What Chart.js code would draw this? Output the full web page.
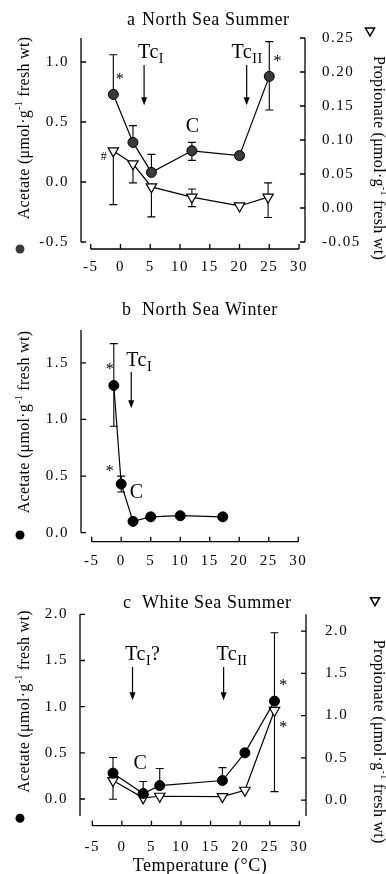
<!DOCTYPE html>
<html>
<head>
<meta charset="utf-8">
<title>Acetate and propionate vs temperature</title>
<script src="https://cdn.jsdelivr.net/npm/chart.js@4.4.1/dist/chart.umd.min.js"></script>
<style>
  html, body { margin: 0; padding: 0; background: #fff; }
  body { position: relative; width: 386px; height: 874px; overflow: hidden; }
  .panel { position: absolute; left: 0; width: 386px; }
</style>
</head>
<body>
<div class="panel" style="top:0;height:285px"><canvas id="panelA"></canvas></div>
<div class="panel" style="top:285px;height:290px"><canvas id="panelB"></canvas></div>
<div class="panel" style="top:575px;height:299px"><canvas id="panelC"></canvas></div>
<script>
const SERIF = '"Liberation Serif", "Times New Roman", serif';
Chart.defaults.font.family = SERIF;
Chart.defaults.color = '#000';

const tempTicks = [-5, 0, 5, 10, 15, 20, 25, 30];

// a  North Sea Summer
const tempA = [-1.2, 2.1, 5.2, 12.0, 20.0, 25.0];
const acetateA = [0.73, 0.33, 0.08, 0.26, 0.22, 0.88];
const acetateUpA = [1.06, 0.47, 0.23, 0.33, null, 1.17];
const acetateDownA = [null, null, null, 0.18, null, 0.60];
const propTempA = [-1.2, 2.1, 5.2, 12.0, 20.0, 24.8];
const propionateA = [0.084, 0.065, 0.031, 0.016, 0.003, 0.016];
const propUpA = [null, null, null, 0.028, null, 0.037];
const propDownA = [0.005, 0.037, -0.013, 0.002, null, -0.014];
const acetateTicksA = [-0.5, 0, 0.5, 1.0];
const propTicksA = [-0.05, 0, 0.05, 0.10, 0.15, 0.20, 0.25];

// b  North Sea Winter
const tempB = [-1.25, 0, 2.0, 5.0, 10.0, 17.2];
const acetateB = [1.30, 0.43, 0.10, 0.14, 0.15, 0.14];
const acetateUpB = [1.67, 0.50, null, null, null, null];
const acetateDownB = [0.94, 0.36, null, null, null, null];
const acetateTicksB = [0, 0.5, 1.0, 1.5];

// c  White Sea Summer
const tempC = [-1.5, 3.6, 6.4, 17.0, 20.8, 25.8];
const acetateC = [0.28, 0.06, 0.145, 0.20, 0.50, 1.06];
const acetateUpC = [0.45, 0.19, 0.33, 0.34, null, 1.80];
const propionateC = [0.23, 0.026, 0.045, 0.04, 0.116, 1.06];
const propDownC = [0.01, null, null, null, null, 0.10];
const acetateTicksC = [0, 0.5, 1.0, 1.5, 2.0];
const propTicksC = [0, 0.5, 1.0, 1.5, 2.0];

const acetateTitle = [{ t: 'Acetate (\u03bcmol\u00b7g' }, { t: '-1', sup: true }, { t: ' fresh wt)' }];
const propionateTitle = [{ t: 'Propionate (\u03bcmol\u00b7g' }, { t: '-1', sup: true }, { t: ' fresh wt)' }];

function points(xs, ys) {
  return xs.map((x, i) => ({ x, y: ys[i] }));
}

function acetateSet(xs, ys, up, down, fill) {
  return {
    label: 'Acetate', data: points(xs, ys), yAxisID: 'y', errUp: up, errDown: down,
    showLine: true, borderColor: '#000', borderWidth: 1.2,
    pointStyle: 'circle', pointRadius: 5, pointBackgroundColor: fill,
    pointBorderColor: '#000', pointBorderWidth: 1
  };
}

function propionateSet(xs, ys, up, down) {
  return {
    label: 'Propionate', data: points(xs, ys), yAxisID: 'y2', errUp: up, errDown: down,
    showLine: true, borderColor: '#000', borderWidth: 1.2,
    pointStyle: 'triangle', pointRotation: 180, pointRadius: 6, pointBackgroundColor: '#fff',
    pointBorderColor: '#000', pointBorderWidth: 1.2
  };
}

function tempAxis(min, max, height, pad) {
  return {
    type: 'linear', min, max,
    grid: { display: false, drawTicks: false }, border: { display: false },
    afterBuildTicks: s => { s.ticks = tempTicks.map(v => ({ value: v })); },
    afterFit: s => { s.height = height; },
    ticks: { padding: pad, font: { size: 15 }, maxRotation: 0, callback: v => String(v) }
  };
}

function valueAxis(position, min, max, tickVals, digits, width, pad) {
  return {
    type: 'linear', position, min, max,
    grid: { display: false, drawTicks: false }, border: { display: false },
    afterBuildTicks: s => { s.ticks = tickVals.map(v => ({ value: v })); },
    afterFit: s => { s.width = width; },
    ticks: { padding: pad, font: { size: 15 }, callback: v => Number(v).toFixed(digits) }
  };
}

function setFont(ctx, size, ls) {
  ctx.font = size + 'px ' + SERIF;
  ctx.letterSpacing = (ls || 0) + 'px';
}

// axis title with a superscript, centred on (cx, cy) and turned by angle
function richLabel(ctx, parts, cx, cy, angle, size) {
  ctx.save();
  ctx.translate(cx, cy);
  ctx.rotate(angle);
  ctx.textAlign = 'left';
  ctx.textBaseline = 'middle';
  let total = 0;
  const runs = parts.map(p => {
    const s = p.sup ? size * 0.62 : size;
    setFont(ctx, s, 0.3);
    const w = ctx.measureText(p.t).width;
    total += w;
    return { t: p.t, sup: p.sup, s, w };
  });
  let x = -total / 2;
  runs.forEach(r => {
    setFont(ctx, r.s, 0.3);
    ctx.fillText(r.t, x, r.sup ? -size * 0.38 : 0);
    x += r.w;
  });
  ctx.restore();
}

function drawFrame(chart, gap) {
  const { ctx, chartArea: a, scales } = chart;
  ctx.save();
  ctx.strokeStyle = '#000';
  ctx.lineWidth = 1.3;
  ctx.beginPath();
  [['y', a.left, 1], ['y2', a.right, -1]].forEach(([id, x, dir]) => {
    const s = scales[id];
    if (!s) return;
    ctx.moveTo(x, a.top);
    ctx.lineTo(x, a.bottom);
    s.ticks.forEach(t => {
      const p = s.getPixelForValue(t.value);
      ctx.moveTo(x, p);
      ctx.lineTo(x + 5 * dir, p);
    });
  });
  const xs = scales.x;
  const yb = a.bottom + gap;
  ctx.moveTo(xs.getPixelForValue(tempTicks[0]), yb);
  ctx.lineTo(xs.getPixelForValue(tempTicks[tempTicks.length - 1]), yb);
  xs.ticks.forEach(t => {
    const p = xs.getPixelForValue(t.value);
    ctx.moveTo(p, yb);
    ctx.lineTo(p, yb - 5);
  });
  ctx.stroke();
  ctx.restore();
}

function drawNotes(chart, notes) {
  const { ctx, scales } = chart;
  ctx.save();
  ctx.fillStyle = '#000';
  ctx.strokeStyle = '#000';
  notes.forEach(n => {
    const x = scales.x.getPixelForValue(n.x);
    const y = scales.y.getPixelForValue(n.y);
    if (n.arrow) {
      const yEnd = scales.y.getPixelForValue(n.to);
      ctx.lineWidth = 1.2;
      ctx.beginPath();
      ctx.moveTo(x, y);
      ctx.lineTo(x, yEnd - 4);
      ctx.stroke();
      ctx.beginPath();
      ctx.moveTo(x - 3, yEnd - 8);
      ctx.lineTo(x + 3, yEnd - 8);
      ctx.lineTo(x, yEnd);
      ctx.closePath();
      ctx.fill();
    } else if (n.tc) {
      ctx.textAlign = 'left';
      ctx.textBaseline = 'alphabetic';
      setFont(ctx, 20, 0.5);
      ctx.fillText('Tc', x, y);
      let cx = x + ctx.measureText('Tc').width;
      setFont(ctx, 14, 0.5);
      ctx.fillText(n.tc, cx, y + 5);
      cx += ctx.measureText(n.tc).width;
      if (n.tail) {
        setFont(ctx, 20, 0.5);
        ctx.fillText(n.tail, cx, y);
      }
    } else {
      ctx.textAlign = 'center';
      ctx.textBaseline = 'middle';
      setFont(ctx, n.size, 0);
      ctx.fillText(n.text, x, y);
    }
  });
  ctx.restore();
}

function decor(cfg) {
  return {
    id: 'decor',
    beforeDraw(chart) {
      chart.ctx.letterSpacing = '1.5px';
    },
    beforeDatasetsDraw(chart) {
      // one-sided and two-sided error bars, under the markers
      const { ctx } = chart;
      ctx.save();
      ctx.strokeStyle = '#000';
      ctx.lineWidth = 1.1;
      ctx.beginPath();
      chart.data.datasets.forEach(ds => {
        const xs = chart.scales.x, ys = chart.scales[ds.yAxisID];
        ds.data.forEach((p, i) => {
          const px = xs.getPixelForValue(p.x), py = ys.getPixelForValue(p.y);
          [ds.errUp, ds.errDown].forEach(arr => {
            const e = arr && arr[i];
            if (e == null) return;
            const pe = ys.getPixelForValue(e);
            ctx.moveTo(px, py);
            ctx.lineTo(px, pe);
            ctx.moveTo(px - 4, pe);
            ctx.lineTo(px + 4, pe);
          });
        });
      });
      ctx.stroke();
      ctx.restore();
    },
    afterDraw(chart) {
      const { ctx } = chart;
      drawFrame(chart, cfg.xGap);
      drawNotes(chart, cfg.notes);

      ctx.save();
      ctx.fillStyle = '#000';
      ctx.textBaseline = 'middle';
      ctx.textAlign = 'left';
      setFont(ctx, 18, 0.6);
      ctx.fillText(cfg.letter, cfg.titleX, cfg.titleY);
      ctx.fillText(cfg.title, 142, cfg.titleY);

      richLabel(ctx, acetateTitle, 25, cfg.leftY, -Math.PI / 2, 16);
      ctx.fillStyle = cfg.dotColor;
      ctx.beginPath();
      ctx.arc(20, cfg.dotY, 4.5, 0, Math.PI * 2);
      ctx.fill();

      if (cfg.rightY) {
        ctx.fillStyle = '#000';
        richLabel(ctx, propionateTitle, 378, cfg.rightY, Math.PI / 2, 16);
        const [tx, ty] = cfg.triangle;
        ctx.lineWidth = 1.5;
        ctx.beginPath();
        ctx.moveTo(tx - 4.5, ty - 4);
        ctx.lineTo(tx + 4.5, ty - 4);
        ctx.lineTo(tx, ty + 4);
        ctx.closePath();
        ctx.stroke();
      }

      if (cfg.xTitle) {
        ctx.fillStyle = '#000';
        ctx.textAlign = 'center';
        setFont(ctx, 18, 0.5);
        ctx.fillText(cfg.xTitle, 200, cfg.xTitleY);
      }
      ctx.restore();
    }
  };
}

function makeChart(id, datasets, scales, padRight, padTop, cfg) {
  return new Chart(document.getElementById(id), {
    type: 'scatter',
    data: { datasets },
    options: {
      responsive: true,
      maintainAspectRatio: false,
      animation: false,
      events: [],
      layout: { padding: { left: 0, right: padRight, top: padTop, bottom: 0 } },
      plugins: { legend: { display: false }, tooltip: { enabled: false } },
      scales
    },
    plugins: [decor(cfg)]
  });
}

makeChart('panelA',
  [acetateSet(tempA, acetateA, acetateUpA, acetateDownA, '#3a3a3a'),
   propionateSet(propTempA, propionateA, propUpA, propDownA)],
  {
    x: tempAxis(-6.63, 31.0, 43, 16),
    y: valueAxis('left', -0.5, 1.2, acetateTicksA, 1, 81, 12),
    y2: valueAxis('right', -0.05, 0.25, propTicksA, 2, 81, 17)
  },
  0, 38,
  {
    letter: 'a', title: 'North Sea Summer', titleX: 127, titleY: 20,
    xGap: 7, leftY: 128, dotY: 249, dotColor: '#3a3a3a',
    rightY: 158, triangle: [370, 32],
    notes: [
      { x: 2.96, y: 1.03, tc: 'I' },
      { x: 3.97, y: 0.975, to: 0.64, arrow: true },
      { x: 18.66, y: 1.03, tc: 'II' },
      { x: 21.2, y: 0.975, to: 0.64, arrow: true },
      { x: 12.1, y: 0.46, text: 'C', size: 20 },
      { x: -0.12, y: 0.85, text: '*', size: 16 },
      { x: 26.4, y: 1.0, text: '*', size: 16 },
      { x: -2.8, y: 0.21, text: '#', size: 12 }
    ]
  });

makeChart('panelB',
  [acetateSet(tempB, acetateB, acetateUpB, acetateDownB, '#000')],
  {
    x: tempAxis(-6.81, 31.14, 42.3, 19),
    y: valueAxis('left', 0, 1.79, acetateTicksB, 1, 81, 12)
  },
  81, 45,
  {
    letter: 'b', title: 'North Sea Winter', titleX: 122, titleY: 25.7,
    xGap: 9, leftY: 137, dotY: 250, dotColor: '#000',
    notes: [
      { x: 0.85, y: 1.47, tc: 'I' },
      { x: 1.7, y: 1.42, to: 1.10, arrow: true },
      { x: -1.93, y: 1.44, text: '*', size: 16 },
      { x: -1.93, y: 0.54, text: '*', size: 16 },
      { x: 2.6, y: 0.35, text: 'C', size: 20 }
    ]
  });

makeChart('panelC',
  [acetateSet(tempC, acetateC, acetateUpC, null, '#000'),
   propionateSet(tempC, propionateC, null, propDownC)],
  {
    x: tempAxis(-7.08, 31.13, 58, 22),
    y: valueAxis('left', -0.184, 2.0, acetateTicksC, 1, 80, 12),
    y2: valueAxis('right', -0.189, 2.198, propTicksC, 1, 80, 19)
  },
  0, 39.3,
  {
    letter: 'c', title: 'White Sea Summer', titleX: 123, titleY: 28.3,
    xGap: 9.7, leftY: 126.5, dotY: 243.3, dotColor: '#000',
    rightY: 166.7, triangle: [375, 26.7],
    xTitle: 'Temperature (\u00b0C)', xTitleY: 291,
    notes: [
      { x: 0.56, y: 1.505, tc: 'I', tail: '?' },
      { x: 1.8, y: 1.43, to: 1.07, arrow: true },
      { x: 16.0, y: 1.505, tc: 'II' },
      { x: 17.2, y: 1.43, to: 1.07, arrow: true },
      { x: 3.1, y: 0.386, text: 'C', size: 20 },
      { x: 27.3, y: 1.23, text: '*', size: 16 },
      { x: 27.3, y: 0.77, text: '*', size: 16 }
    ]
  });
</script>
</body>
</html>
